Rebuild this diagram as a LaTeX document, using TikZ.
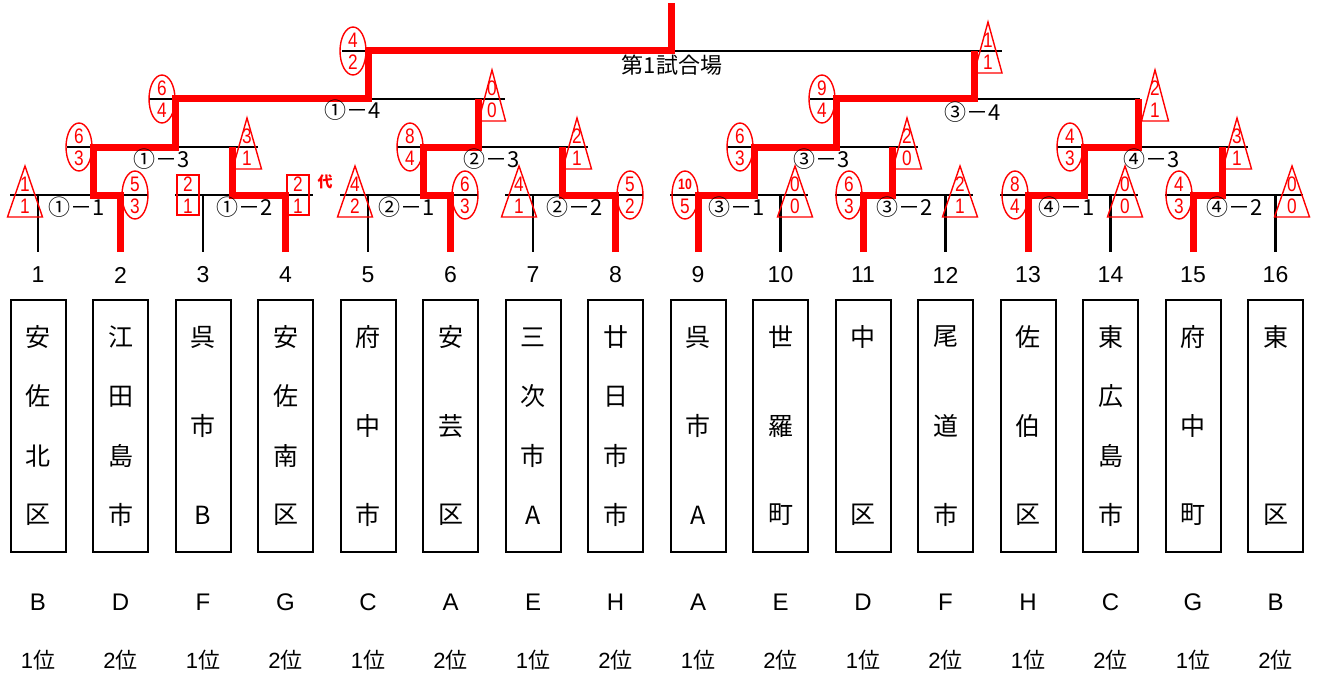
\documentclass[tikz,border=0pt]{standalone}
\usepackage{fontspec}
\setmainfont{Liberation Sans}
\newfontfamily\jp{Noto Sans CJK JP}
\newfontfamily\nar[FakeStretch=0.82]{Liberation Sans}
\usetikzlibrary{shapes.geometric}
\tikzset{
  bline/.style={line width=2.2pt, black},
  rline/.style={line width=7pt, red, line join=miter, line cap=butt},
  teambox/.style={draw, line width=2pt, minimum width=55pt, minimum height=252pt, inner sep=0pt},
  jpch/.style={font=\jp\fontsize{25}{25}\selectfont, inner sep=0pt},
  numlbl/.style={font=\fontsize{23}{23}\selectfont, inner sep=0pt},
  grplbl/.style={font=\fontsize{24}{24}\selectfont, inner sep=0pt},
  rklbl/.style={font=\fontsize{22}{22}\selectfont, inner sep=0pt},
  mlbl/.style={font=\jp\fontsize{22}{22}\selectfont, inner sep=0pt},
  winell/.style={draw=red, line width=1.4pt, ellipse, minimum width=26pt, minimum height=48pt, inner sep=0pt},
  sqbox/.style={draw=red, line width=1.4pt, minimum width=22pt, minimum height=40pt, inner sep=0pt},
  sc/.style={font=\nar\fontsize{21}{21}\selectfont, text=red, inner sep=0pt},
  tri/.style={draw=red, line width=1.4pt, line join=miter},
}
\newcommand\winmark[5]{%
  \node[winell] (#1) at (#2,#3) {};
  \node[sc] (#1t) at (#2,#3-10.5) {#4};
  \node[sc] (#1b) at (#2,#3+11.5) {#5};
}
\newcommand\losemark[6]{%
  \coordinate (#1) at (#2,#3);
  \draw[tri] (#2,#3-29) -- (#2+#6,#3+22) -- (#2-#6,#3+22) -- cycle;
  \node[sc] (#1t) at (#2,#3-10.5) {#4};
  \node[sc] (#1b) at (#2,#3+11.5) {#5};
}
\newcommand\sqmark[5]{%
  \node[sqbox] (#1) at (#2,#3) {};
  \node[sc] (#1t) at (#2,#3-10.5) {#4};
  \node[sc] (#1b) at (#2,#3+11.5) {#5};
}
\begin{document}
\begin{tikzpicture}[x=1pt,y=-1pt]
\fill[white] (0,0) rectangle (1319,674);
\useasboundingbox (0,0) rectangle (1319,674);

% teams
\foreach \i/\nc/\chs/\g/\r in {1/4/{安,佐,北,区}/B/1, 2/4/{江,田,島,市}/D/2, 3/3/{呉,市,B}/F/1, 4/4/{安,佐,南,区}/G/2, 5/3/{府,中,市}/C/1, 6/3/{安,芸,区}/A/2, 7/4/{三,次,市,A}/E/1, 8/4/{廿,日,市,市}/H/2, 9/3/{呉,市,A}/A/1, 10/3/{世,羅,町}/E/2, 11/2/{中,区}/D/1, 12/3/{尾,道,市}/F/2, 13/3/{佐,伯,区}/H/1, 14/4/{東,広,島,市}/C/2, 15/3/{府,中,町}/G/1, 16/2/{東,区}/B/2}{
  \pgfmathsetmacro\X{38+(\i-1)*82.5}
  \node[teambox] (box\i) at (\X,426) {};
  \node[numlbl] (num\i) at (\X,275) {\i};
  \node[grplbl] (grp\i) at (\X,602) {\g};
  \node[rklbl] (rk\i) at (\X,660) {\r{\jp 位}};
  \foreach \ch [count=\k] in \chs {
    \pgfmathsetmacro\Y{337+(\k-1)*178/(\nc-1)}
    \node[jpch] (ch\i k\k) at (\X,\Y) {\ch};
  }
  \coordinate (s\i) at (\X,195);
  \coordinate (b\i) at (\X,252);
  \draw[bline] (s\i) -- (b\i);
}

% round 1 lines
\foreach \p in {0,...,7}{
  \pgfmathsetmacro\xa{38+(2*\p)*82.5}
  \pgfmathsetmacro\xb{\xa+82.5}
  \coordinate (rl\p) at (\xa-28,195);
  \coordinate (rr\p) at (\xb+27,195);
  \draw[bline] (rl\p) -- (rr\p);
}
% other lines
\foreach \n/\xl/\xr/\y in {13/67/258/147, 23/397/588/147, 33/727/918/147, 43/1057/1248/147, 14/149/505/99, 34/810/1140/99, F/342/1002/51}{
  \coordinate (ll\n) at (\xl,\y);
  \coordinate (lr\n) at (\xr,\y);
  \draw[bline] (ll\n) -- (lr\n);
}

% junctions
\foreach \n/\x in {11/93,12/232,21/423,22/562,31/754,32/892,41/1084,42/1222}{
  \coordinate (ja\n) at (\x,195); \coordinate (jb\n) at (\x,147);}
\foreach \n/\x in {13/175,23/478,33/836,43/1138}{
  \coordinate (ja\n) at (\x,147); \coordinate (jb\n) at (\x,99);}
\foreach \n/\x in {14/368,34/974}{
  \coordinate (ja\n) at (\x,99); \coordinate (jb\n) at (\x,51);}
\coordinate (fa) at (671,51);
\coordinate (fb) at (671,3);

% red winner paths
\draw[rline] (b2) -- (s2) -- (ja11) -- (jb11) -- (ja13) -- (jb13) -- (ja14) -- (jb14) -- (fa) -- (fb);
\draw[rline] (b4) -- (s4) -- (ja12) -- (jb12);
\draw[rline] (b6) -- (s6) -- (ja21) -- (jb21) -- (ja23) -- (jb23);
\draw[rline] (b8) -- (s8) -- (ja22) -- (jb22);
\draw[rline] (b9) -- (s9) -- (ja31) -- (jb31) -- (ja33) -- (jb33) -- (ja34) -- (jb34);
\draw[rline] (b11) -- (s11) -- (ja32) -- (jb32);
\draw[rline] (b13) -- (s13) -- (ja41) -- (jb41) -- (ja43) -- (jb43);
\draw[rline] (b15) -- (s15) -- (ja42) -- (jb42);

% round 1 markers
\losemark{m1}{25}{195}{1}{1}{17.5}
\winmark{m2}{135}{195}{5}{3}
\sqmark{m3}{188}{195}{2}{1}
\sqmark{m4}{298}{195}{2}{1}
\node[font=\jp\bfseries\fontsize{15}{15}\selectfont, text=red, inner sep=0pt] (dai) at (325,182) {代};
\losemark{m5}{355}{195}{4}{2}{17.5}
\winmark{m6}{465}{195}{6}{3}
\losemark{m7}{519}{195}{4}{1}{17.5}
\winmark{m8}{630}{195}{5}{2}
\winmark{m9}{685}{195}{{\bfseries\fontsize{15}{15}\selectfont 10}}{5}
\losemark{m10}{795}{195}{0}{0}{17.5}
\winmark{m11}{849}{195}{6}{3}
\losemark{m12}{960}{195}{2}{1}{17.5}
\winmark{m13}{1015}{195}{8}{4}
\losemark{m14}{1125}{195}{0}{0}{17.5}
\winmark{m15}{1179}{195}{4}{3}
\losemark{m16}{1292}{195}{0}{0}{17.5}

% round 2 markers
\winmark{w13}{79}{147}{6}{3}
\losemark{l13}{247}{147}{3}{1}{14.5}
\winmark{w23}{410}{147}{8}{4}
\losemark{l23}{577}{147}{2}{1}{14.5}
\winmark{w33}{740}{147}{6}{3}
\losemark{l33}{907}{147}{2}{0}{14.5}
\winmark{w43}{1070}{147}{4}{3}
\losemark{l43}{1237}{147}{3}{1}{14.5}

% round 3 markers
\winmark{w14}{162}{99}{6}{4}
\losemark{l14}{492}{99}{0}{0}{13.5}
\winmark{w34}{822}{99}{9}{4}
\losemark{l34}{1155}{99}{2}{1}{13.5}

% final markers
\winmark{wF}{353}{51}{4}{2}
\losemark{lF}{988}{51}{1}{1}{14}

% match labels
\node[mlbl] (g11) at (77,207) {①－1};
\node[mlbl] (g12) at (245,207) {①－2};
\node[mlbl] (g21) at (407,207) {②－1};
\node[mlbl] (g22) at (575,207) {②－2};
\node[mlbl] (g31) at (737,207) {③－1};
\node[mlbl] (g32) at (905,207) {③－2};
\node[mlbl] (g41) at (1067,207) {④－1};
\node[mlbl] (g42) at (1235,207) {④－2};
\node[mlbl] (g13) at (162,159) {①－3};
\node[mlbl] (g23) at (492,159) {②－3};
\node[mlbl] (g33) at (822,159) {③－3};
\node[mlbl] (g43) at (1152,159) {④－3};
\node[mlbl] (g14) at (353,110) {①－4};
\node[mlbl] (g34) at (973,112) {③－4};
\node[mlbl] (venue) at (672,65) {第1試合場};
\end{tikzpicture}
\end{document}
